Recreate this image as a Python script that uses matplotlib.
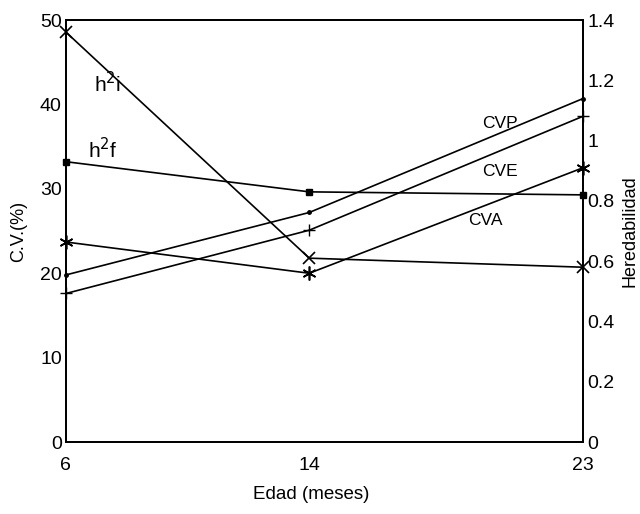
import matplotlib
matplotlib.use("Agg")
import matplotlib.pyplot as plt

plt.rcParams["font.family"] = ["Liberation Sans", "DejaVu Sans"]

# datos
edad = [6, 14, 23]
cvp = [19.8, 27.2, 40.7]
cve = [17.6, 25.1, 38.6]
cva = [23.7, 20.0, 32.5]
h2i = [1.36, 0.61, 0.58]
h2f = [0.93, 0.83, 0.82]

cv_ticks = [0, 10, 20, 30, 40, 50]
h_ticks = [0, 0.2, 0.4, 0.6, 0.8, 1.0, 1.2, 1.4]
h_labels = ["0", "0.2", "0.4", "0.6", "0.8", "1", "1.2", "1.4"]

fig = plt.figure(figsize=(6.4, 5.14), dpi=100)
ax = fig.add_axes([0.103, 0.140, 0.808, 0.821])
ax2 = ax.twinx()

lw = 1.2
ax.plot(edad, cvp, "-k", lw=lw, marker=".", ms=5, clip_on=False, zorder=3)
ax.plot(edad, cve, "-k", lw=lw, marker="+", ms=9, mew=1, clip_on=False, zorder=3)
ax.plot(edad, cva, "-k", lw=lw, marker=(6, 2, 0), ms=10, mew=1.2, clip_on=False, zorder=3)
ax2.plot(edad, h2i, "-k", lw=lw, marker="x", ms=8, mew=1.2, clip_on=False, zorder=3)
ax2.plot(edad, h2f, "-k", lw=lw, marker="s", ms=5, clip_on=False, zorder=3)

ax.set_xlim(6, 23)
ax.set_ylim(0, 50)
ax2.set_ylim(0, 1.4)
ax.set_xticks(edad)
ax.set_yticks(cv_ticks)
ax2.set_yticks(h_ticks)
ax2.set_yticklabels(h_labels)

ax.tick_params(axis="x", length=0, pad=11, labelsize=14)
ax.tick_params(axis="y", length=0, pad=3, labelsize=14)
ax2.tick_params(axis="y", length=0, pad=3, labelsize=14)

for a in (ax, ax2):
    for s in a.spines.values():
        s.set_linewidth(1.3)

ax.set_xlabel("Edad (meses)", fontsize=13.5)
ax.xaxis.set_label_coords(0.474, -0.104)
ax.set_ylabel("C.V.(%)", fontsize=13, labelpad=9)
ax2.set_ylabel("Heredabilidad", fontsize=13, labelpad=5)

ax.text(7.38, 42.5, "h$^2$i", fontsize=15, ha="center", va="center")
ax.text(7.22, 34.6, "h$^2$f", fontsize=15, ha="center", va="center")
ax.text(20.27, 37.7, "CVP", fontsize=12.5, ha="center", va="center")
ax.text(20.27, 32.1, "CVE", fontsize=12.5, ha="center", va="center")
ax.text(19.8, 26.2, "CVA", fontsize=12.5, ha="center", va="center")

fig.savefig("out.png", dpi=100)
